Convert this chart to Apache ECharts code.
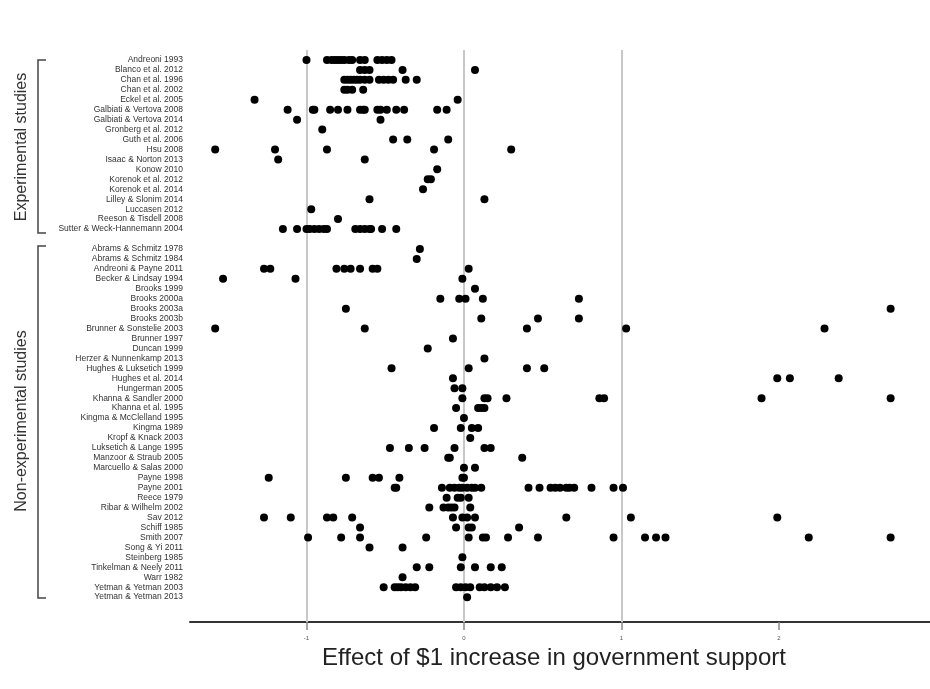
<!DOCTYPE html>
<html>
<head>
<meta charset="utf-8">
<style>
  html, body { margin: 0; background: #fff; }
  #chart { width: 930px; height: 689px; }
</style>
<script src="https://cdn.jsdelivr.net/npm/echarts@6.0.0/dist/echarts.min.js"></script>
</head>
<body>
<div id="chart"></div>
<script>
const experimentalStudies = [
  'Andreoni 1993', 'Blanco et al. 2012', 'Chan et al. 1996', 'Chan et al. 2002',
  'Eckel et al. 2005', 'Galbiati & Vertova 2008', 'Galbiati & Vertova 2014',
  'Gronberg et al. 2012', 'Guth et al. 2006', 'Hsu 2008', 'Isaac & Norton 2013',
  'Konow 2010', 'Korenok et al. 2012', 'Korenok et al. 2014', 'Lilley & Slonim 2014',
  'Luccasen 2012', 'Reeson & Tisdell 2008', 'Sutter & Weck-Hannemann 2004'
];
const experimentalEffects = [
  [-1.00, -0.87, -0.84, -0.82, -0.80, -0.78, -0.76, -0.73, -0.71, -0.66, -0.63, -0.55, -0.52, -0.49, -0.46],
  [-0.66, -0.63, -0.60, -0.39, 0.07],
  [-0.76, -0.74, -0.72, -0.70, -0.68, -0.66, -0.63, -0.60, -0.54, -0.51, -0.48, -0.45, -0.37, -0.30],
  [-0.76, -0.74, -0.71, -0.64],
  [-1.33, -0.04],
  [-1.12, -0.96, -0.95, -0.85, -0.80, -0.74, -0.66, -0.64, -0.63, -0.55, -0.53, -0.49, -0.43, -0.38, -0.17, -0.11],
  [-1.06, -0.53],
  [-0.90],
  [-0.45, -0.36, -0.10],
  [-1.58, -1.20, -0.87, -0.19, 0.30],
  [-1.18, -0.63],
  [-0.17],
  [-0.23, -0.21],
  [-0.26],
  [-0.60, 0.13],
  [-0.97],
  [-0.80],
  [-1.15, -1.06, -1.00, -0.98, -0.95, -0.92, -0.89, -0.87, -0.69, -0.66, -0.63, -0.60, -0.59, -0.52, -0.43]
];

const nonExperimentalStudies = [
  'Abrams & Schmitz 1978', 'Abrams & Schmitz 1984', 'Andreoni & Payne 2011',
  'Becker & Lindsay 1994', 'Brooks 1999', 'Brooks 2000a', 'Brooks 2003a', 'Brooks 2003b',
  'Brunner & Sonstelie 2003', 'Brunner 1997', 'Duncan 1999', 'Herzer & Nunnenkamp 2013',
  'Hughes & Luksetich 1999', 'Hughes et al. 2014', 'Hungerman 2005',
  'Khanna & Sandler 2000', 'Khanna et al. 1995', 'Kingma & McClelland 1995', 'Kingma 1989',
  'Kropf & Knack 2003', 'Luksetich & Lange 1995', 'Manzoor & Straub 2005',
  'Marcuello & Salas 2000', 'Payne 1998', 'Payne 2001', 'Reece 1979',
  'Ribar & Wilhelm 2002', 'Sav 2012', 'Schiff 1985', 'Smith 2007', 'Song & Yi 2011',
  'Steinberg 1985', 'Tinkelman & Neely 2011', 'Warr 1982', 'Yetman & Yetman 2003',
  'Yetman & Yetman 2013'
];
const nonExperimentalEffects = [
  [-0.28],
  [-0.30],
  [-1.27, -1.23, -0.81, -0.76, -0.72, -0.66, -0.58, -0.55, 0.03],
  [-1.53, -1.07, -0.01],
  [0.07],
  [-0.15, -0.03, 0.01, 0.12, 0.73],
  [-0.75, 2.71],
  [0.11, 0.47, 0.73],
  [-1.58, -0.63, 0.40, 1.03, 2.29],
  [-0.07],
  [-0.23],
  [0.13],
  [-0.46, 0.03, 0.40, 0.51],
  [-0.07, 1.99, 2.07, 2.38],
  [-0.06, -0.01],
  [-0.01, 0.13, 0.15, 0.27, 0.86, 0.89, 1.89, 2.71],
  [-0.05, 0.09, 0.11, 0.13],
  [0.00],
  [-0.19, -0.02, 0.05, 0.09],
  [0.04],
  [-0.47, -0.35, -0.25, -0.06, 0.13, 0.17],
  [-0.10, -0.09, 0.37],
  [0.00, 0.07],
  [-1.24, -0.75, -0.58, -0.54, -0.41, -0.01, 0.00],
  [-0.44, -0.43, -0.14, -0.09, -0.06, -0.03, -0.01, 0.02, 0.05, 0.07, 0.11, 0.41, 0.48, 0.55, 0.58, 0.61, 0.65, 0.67, 0.70, 0.81, 0.95, 1.01],
  [-0.11, -0.04, -0.02, 0.03],
  [-0.22, -0.13, -0.10, -0.08, -0.06, 0.04],
  [-1.27, -1.10, -0.87, -0.83, -0.71, -0.07, -0.01, 0.02, 0.07, 0.65, 1.06, 1.99],
  [-0.66, -0.05, 0.03, 0.05, 0.35],
  [-0.99, -0.78, -0.66, -0.24, 0.03, 0.12, 0.14, 0.28, 0.47, 0.95, 1.15, 1.22, 1.28, 2.19, 2.71],
  [-0.60, -0.39],
  [-0.01],
  [-0.30, -0.22, -0.02, 0.07, 0.17, 0.24],
  [-0.39],
  [-0.51, -0.44, -0.42, -0.40, -0.37, -0.34, -0.31, -0.05, -0.02, 0.01, 0.04, 0.10, 0.13, 0.17, 0.21, 0.26],
  [0.02]
];

const xTicks = [-1, 0, 1, 2];
const referenceLines = [-1, 0, 1];

// one blank row separates the two groups
const rowNames = experimentalStudies.concat([''], nonExperimentalStudies);
const rowEffects = experimentalEffects.concat([[]], nonExperimentalEffects);
const points = [];
rowEffects.forEach((vals, row) => vals.forEach(v => points.push([v, row])));

const font = "'Liberation Sans', Arial, sans-serif";

const chart = echarts.init(document.getElementById('chart'));
chart.setOption({
  animation: false,
  backgroundColor: '#fff',
  grid: { left: 190, right: 0, top: 50, bottom: 67 },
  xAxis: {
    type: 'value',
    position: 'bottom',
    min: -1.74,
    max: 2.96,
    axisLine: { onZero: false, lineStyle: { color: '#333', width: 2 } },
    axisTick: { customValues: xTicks, length: 8, lineStyle: { color: '#888', width: 1.5 } },
    axisLabel: { customValues: xTicks, fontSize: 6, color: '#555', margin: 13, fontFamily: font },
    splitLine: { show: false },
    name: 'Effect of $1 increase in government support',
    nameLocation: 'middle',
    nameGap: 24,
    nameTextStyle: { fontSize: 24, color: '#222', fontFamily: font, padding: [0, 12, 0, 0] }
  },
  yAxis: {
    type: 'value',
    inverse: true,
    min: -1,
    max: 56.5,
    interval: 1,
    axisLine: { show: false },
    axisTick: { show: false },
    splitLine: { show: false },
    axisLabel: {
      margin: 7,
      fontSize: 8.5,
      color: '#333',
      fontFamily: font,
      formatter: v => (Number.isInteger(v) && rowNames[v]) ? rowNames[v] : ''
    }
  },
  series: [{
    type: 'scatter',
    data: points,
    symbolSize: 8,
    itemStyle: { color: '#000', opacity: 1 },
    z: 3,
    silent: true,
    markLine: {
      silent: true,
      z: 1,
      symbol: 'none',
      label: { show: false },
      lineStyle: { color: '#c8c8c8', width: 2, type: 'solid' },
      data: referenceLines.map(v => ({ xAxis: v }))
    }
  }],
  graphic: [
    { type: 'polyline', shape: { points: [[46, 60], [38, 60], [38, 233], [46, 233]] },
      style: { stroke: '#444', lineWidth: 1.5, fill: null } },
    { type: 'polyline', shape: { points: [[46, 246], [38, 246], [38, 598], [46, 598]] },
      style: { stroke: '#444', lineWidth: 1.5, fill: null } },
    { type: 'text', x: 22, y: 147, rotation: Math.PI / 2,
      style: { text: 'Experimental studies', fontSize: 16, fontFamily: font, fill: '#333',
               align: 'center', verticalAlign: 'middle' } },
    { type: 'text', x: 22, y: 421, rotation: Math.PI / 2,
      style: { text: 'Non-experimental studies', fontSize: 16, fontFamily: font, fill: '#333',
               align: 'center', verticalAlign: 'middle' } }
  ]
});
</script>
</body>
</html>
